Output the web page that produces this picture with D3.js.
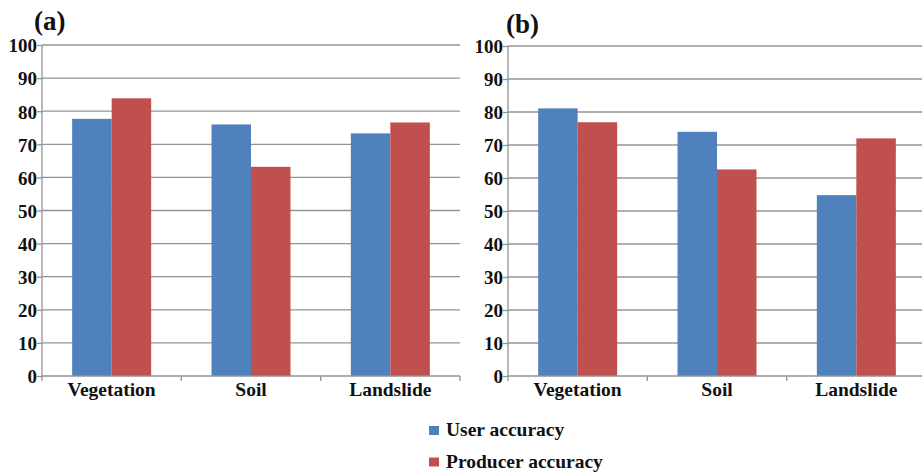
<!DOCTYPE html>
<html><head><meta charset="utf-8">
<script src="https://cdn.jsdelivr.net/npm/d3@7"></script>
<style>
body{margin:0;background:#fff}svg{display:block}
svg text{font-family:"Liberation Serif",serif !important;font-weight:bold}
</style>
</head><body>
<svg id="c" width="922" height="476"></svg>
<script>
const categories = ["Vegetation", "Soil", "Landslide"];
const seriesNames = ["User accuracy", "Producer accuracy"];
const userA = [77.7, 76.0, 73.3];
const producerA = [83.9, 63.2, 76.6];
const userB = [81.1, 74.0, 54.8];
const producerB = [76.9, 62.6, 72.0];
const yTicks = [0, 10, 20, 30, 40, 50, 60, 70, 80, 90, 100];
const colors = ["#4F81BD", "#C0504D"];
const grid = "#939393";

const svg = d3.select("#c");

function panel(label, left, right, top, bottom, user, prod, labelX, labelY) {
  const g = svg.append("g");
  const y = d3.scaleLinear().domain([0, 100]).range([bottom, top]);
  const x0 = d3.scaleBand().domain(categories).range([left, right]).paddingInner(0.433).paddingOuter(0.2165);
  const x1 = d3.scaleBand().domain(seriesNames).range([0, x0.bandwidth()]);
  g.append("g").selectAll("line").data(yTicks.filter(t => t > 0)).join("line")
    .attr("x1", left).attr("x2", right).attr("y1", d => y(d)).attr("y2", d => y(d))
    .attr("stroke", grid).attr("stroke-width", 1.3);
  const data = categories.map((c, i) => ({c, vals: [user[i], prod[i]]}));
  g.append("g").selectAll("g").data(data).join("g")
    .attr("transform", d => `translate(${x0(d.c)},0)`)
    .selectAll("rect").data(d => d.vals.map((v, j) => ({v, s: seriesNames[j], j})))
    .join("rect")
    .attr("x", d => x1(d.s)).attr("width", x1.bandwidth())
    .attr("y", d => y(d.v)).attr("height", d => y(0) - y(d.v))
    .attr("fill", d => colors[d.j]);
  const ya = d3.axisLeft(y).tickValues(yTicks).tickSize(5).tickPadding(0);
  const yg = g.append("g").attr("transform", `translate(${left},0)`).call(ya);
  yg.attr("font-family", null).attr("font-size", null);
  yg.select(".domain").attr("stroke", grid).attr("stroke-width", 1.3).attr("d", `M0,${top}V${bottom}`);
  yg.selectAll(".tick line").attr("stroke", grid).attr("stroke-width", 1.3);
  yg.selectAll(".tick text").style("font-size", "19px").attr("fill", "#111").attr("dy", "0.36em");
  const xb = g.append("g");
  xb.append("line").attr("x1", left).attr("x2", right).attr("y1", bottom).attr("y2", bottom)
    .attr("stroke", grid).attr("stroke-width", 1.3);
  xb.selectAll("line.t").data(d3.range(categories.length + 1)).join("line").attr("class", "t")
    .attr("x1", i => left + i * x0.step()).attr("x2", i => left + i * x0.step())
    .attr("y1", bottom).attr("y2", bottom + 5).attr("stroke", grid).attr("stroke-width", 1.3);
  xb.selectAll("text").data(categories).join("text")
    .attr("x", d => x0(d) + x0.bandwidth() / 2).attr("y", bottom + 19.5)
    .attr("text-anchor", "middle").style("font-size", "19.5px").attr("fill", "#111").text(d => d);
  g.append("text").attr("x", labelX).attr("y", labelY)
    .style("font-size", "27px").attr("fill", "#111").text(label);
}

panel("(a)", 42, 460, 45, 376, userA, producerA, 34, 30);
panel("(b)", 508, 926, 46, 376, userB, producerB, 506, 33);

const lg = svg.append("g");
seriesNames.forEach((s, i) => {
  lg.append("rect").attr("x", 429).attr("y", 426 + i * 31.5).attr("width", 10).attr("height", 9).attr("fill", colors[i]);
  lg.append("text").attr("x", 446).attr("y", 436 + i * 31.5)
    .style("font-size", "19.5px").attr("fill", "#111").text(s);
});
</script>
</body></html>
